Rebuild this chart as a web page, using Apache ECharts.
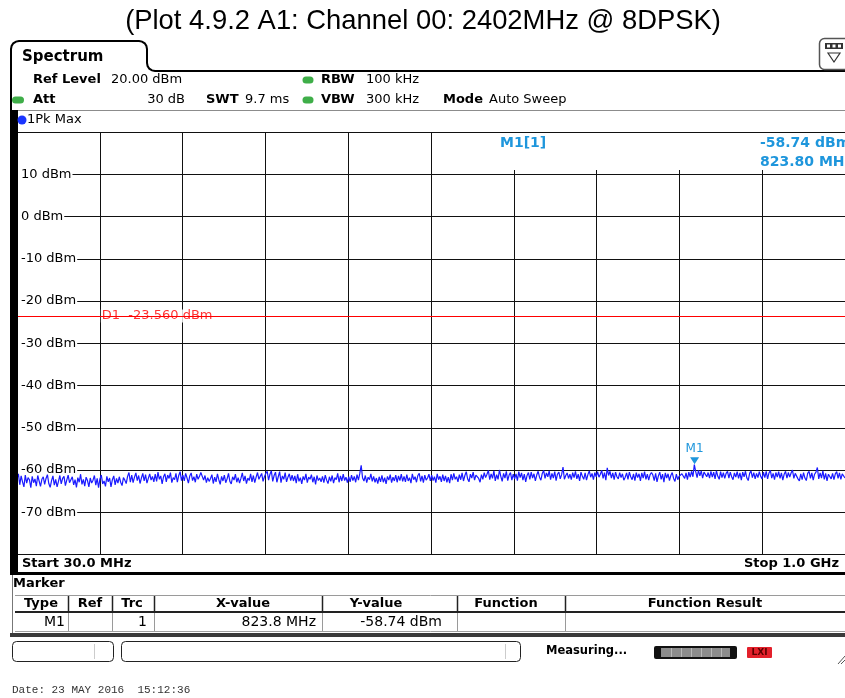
<!DOCTYPE html>
<html>
<head>
<meta charset="utf-8">
<script src="https://cdn.jsdelivr.net/npm/echarts@6/dist/echarts.min.js"></script>
<style>
  html, body { margin: 0; padding: 0; background: #fff; }
  #chart { width: 845px; height: 698px; }
</style>
</head>
<body>
<div id="chart"></div>
<script>
// Sweep settings
const sweepStartMHz = 30;
const sweepStopMHz = 1000;
const refLevelDbm = 20;
const bottomLevelDbm = -80;
const levelStepDb = 10;
const divisionsX = 10;

// Display line D1 and marker M1
const d1LimitDbm = -23.56;
const m1FreqMHz = 823.8;
const m1LevelDbm = -58.74;

// Marker table
const markerTableHeaders = ['Type', 'Ref', 'Trc', 'X-value', 'Y-value', 'Function', 'Function Result'];

// 1Pk Max trace, dBm, equally spaced sweep points from start to stop
const traceDbm = [
  -62.0,-60.9,-63.5,-61.4,-62.8,-64.0,-61.2,-63.1,-61.8,-62.3,-64.2,-61.5,-63.0,-62.1,-63.8,-61.3,-62.6,-63.9,-62.2,-61.6,
  -63.4,-62.0,-61.1,-63.2,-64.1,-62.5,-61.4,-63.6,-62.2,-64.0,-62.7,-61.3,-63.3,-62.0,-61.5,-63.7,-62.4,-61.2,-63.0,-62.6,
  -61.6,-63.5,-62.3,-64.1,-61.8,-62.9,-61.0,-63.4,-62.2,-63.8,-61.7,-62.5,-64.0,-61.9,-63.1,-62.4,-61.3,-63.6,-62.0,-64.2,
  -62.1,-61.2,-63.3,-62.6,-63.9,-61.5,-62.8,-61.9,-64.0,-62.3,-61.4,-63.5,-62.0,-63.1,-61.6,-62.9,-63.7,-61.8,-62.4,-63.2,
  -61.5,-60.6,-62.9,-61.2,-63.0,-61.7,-60.7,-62.5,-61.3,-63.2,-61.9,-60.8,-62.6,-61.1,-63.1,-62.0,-60.9,-62.4,-61.5,-62.8,
  -61.0,-62.7,-60.5,-62.2,-61.4,-63.3,-61.6,-60.9,-62.8,-61.2,-62.0,-60.6,-63.0,-61.8,-62.3,-60.8,-62.9,-61.3,-60.4,-62.5,
  -61.2,-62.6,-60.8,-61.9,-63.1,-61.4,-60.7,-62.5,-61.6,-62.9,-61.0,-62.2,-61.5,-60.6,-60.2,-62.4,-61.3,-63.0,-61.8,-62.7,
  -62.0,-61.1,-63.2,-61.7,-62.8,-60.9,-62.3,-63.4,-61.5,-62.6,-61.2,-63.0,-62.1,-60.8,-62.7,-63.3,-61.6,-62.4,-61.0,-62.9,
  -61.8,-63.1,-62.0,-60.7,-62.6,-61.4,-63.2,-61.9,-62.5,-60.9,-62.8,-61.3,-63.0,-61.7,-60.6,-62.2,-61.5,-60.8,-62.7,-61.6,
  -60.8,-60.3,-62.4,-61.0,-60.2,-62.7,-61.3,-60.5,-62.9,-61.6,-60.4,-63.0,-61.4,-62.2,-60.6,-62.8,-61.7,-60.9,-62.5,-61.2,
  -62.6,-61.4,-63.1,-61.0,-62.7,-61.8,-63.3,-61.5,-62.4,-60.9,-63.0,-61.7,-62.2,-61.1,-62.9,-61.6,-63.4,-61.3,-62.5,-61.9,
  -62.8,-61.5,-63.0,-61.2,-62.4,-63.2,-61.6,-62.7,-61.3,-63.1,-61.8,-62.3,-60.8,-62.9,-61.4,-62.6,-61.0,-62.5,-61.7,-63.0,
  -61.6,-62.8,-61.2,-62.5,-61.5,-62.9,-61.1,-62.4,-60.8,-58.9,-61.9,-62.6,-61.3,-63.0,-61.7,-62.3,-60.9,-62.7,-61.5,-62.9,
  -61.9,-63.2,-61.6,-62.8,-61.3,-62.9,-61.8,-63.3,-61.5,-62.4,-61.1,-63.0,-61.7,-62.6,-61.2,-62.9,-61.4,-62.5,-61.0,-62.7,
  -61.5,-62.8,-61.1,-62.6,-61.8,-63.1,-60.9,-62.3,-61.6,-62.9,-61.3,-60.8,-62.7,-61.4,-63.0,-61.2,-62.4,-61.9,-61.0,-62.6,
  -61.2,-62.5,-61.6,-63.0,-60.9,-62.3,-61.5,-62.8,-61.1,-62.6,-61.4,-62.9,-61.7,-63.1,-61.0,-62.4,-60.8,-62.2,-61.6,-62.8,
  -61.1,-62.3,-60.7,-62.6,-61.3,-60.4,-62.1,-62.8,-61.0,-61.9,-60.5,-62.4,-61.2,-60.8,-62.0,-62.9,-61.1,-62.2,-60.6,-61.8,
  -61.0,-60.1,-62.3,-60.9,-62.0,-60.2,-62.6,-61.1,-62.2,-60.0,-61.5,-62.7,-60.8,-61.9,-60.3,-62.5,-61.2,-60.6,-62.4,-61.0,
  -62.1,-60.9,-62.5,-60.4,-61.8,-60.7,-62.4,-61.0,-62.8,-61.3,-60.6,-62.2,-60.5,-61.9,-60.9,-62.6,-61.2,-60.3,-61.7,-62.4,
  -60.8,-60.1,-62.0,-60.7,-61.6,-60.2,-62.3,-60.8,-61.9,-60.4,-62.5,-61.0,-60.5,-62.1,-61.1,-59.3,-62.2,-61.3,-60.7,-62.0,
  -61.0,-62.3,-60.6,-61.8,-60.3,-62.1,-61.0,-62.6,-60.5,-61.5,-62.2,-60.7,-62.4,-61.1,-60.2,-61.7,-60.8,-62.3,-60.6,-61.6,
  -60.4,-61.7,-61.0,-60.1,-62.0,-60.6,-62.4,-59.5,-61.3,-60.3,-61.9,-60.7,-62.3,-60.5,-61.6,-62.1,-60.6,-61.8,-60.9,-62.4,
  -61.7,-60.7,-62.2,-60.5,-61.6,-62.3,-60.9,-62.5,-60.6,-61.8,-60.9,-62.6,-60.7,-61.9,-60.4,-62.2,-61.0,-62.4,-61.1,-60.6,
  -61.2,-62.5,-60.8,-62.8,-61.4,-60.5,-62.2,-61.0,-62.9,-60.7,-61.9,-60.9,-62.5,-61.3,-60.6,-62.0,-62.7,-61.0,-62.3,-61.5,
  -61.8,-60.9,-60.5,-62.0,-60.7,-62.3,-60.5,-61.7,-60.3,-61.6,-58.74,-60.4,-61.8,-60.1,-61.4,-60.2,-61.9,-60.5,-60.1,-61.6,
  -60.6,-61.9,-60.3,-61.7,-60.5,-62.1,-60.2,-61.5,-62.2,-60.4,-61.8,-60.6,-62.0,-60.8,-60.3,-61.9,-60.5,-61.6,-62.3,-60.7,
  -61.7,-60.4,-62.0,-60.7,-62.4,-60.5,-61.6,-60.3,-61.9,-62.5,-60.8,-60.2,-61.8,-60.6,-62.1,-60.8,-61.8,-60.4,-61.5,-62.1,
  -60.5,-61.8,-60.3,-62.1,-60.7,-60.1,-61.9,-60.8,-62.3,-60.6,-61.7,-60.4,-62.0,-60.7,-62.4,-61.0,-60.3,-61.9,-60.6,-61.7,
  -60.7,-60.0,-62.0,-60.8,-60.4,-62.1,-62.6,-60.9,-62.3,-60.6,-61.9,-62.5,-60.8,-60.3,-62.0,-60.7,-62.4,-61.0,-60.5,-59.4,
  -62.1,-60.7,-61.9,-60.2,-62.2,-60.8,-62.6,-61.0,-60.6,-62.1,-60.8,-62.3,-60.9,-60.4,-62.0,-60.7,-62.2,-60.9,-60.5,-61.9
];

const UI_FONT = '"DejaVu Sans", sans-serif';
const MARKER_BLUE = '#1e96dc';
const TRACE_BLUE = '#1a1aff';

const sweepStep = (sweepStopMHz - sweepStartMHz) / (traceDbm.length - 1);
const tracePoints = traceDbm.map((v, i) => [sweepStartMHz + i * sweepStep, v]);
const firstDivisionMHz = sweepStartMHz + (sweepStopMHz - sweepStartMHz) / divisionsX;

// ---------- helpers for the instrument frame ----------
function text(x, y, str, opts) {
  opts = opts || {};
  const size = opts.size || 13;
  const weight = opts.bold ? 'bold ' : '';
  const family = opts.family || UI_FONT;
  const align = opts.align || 'left';
  return {
    type: 'text', x: x, y: y, z: opts.z || 20, silent: true,
    style: {
      text: str,
      font: weight + size + 'px ' + family,
      fill: opts.color || '#000',
      align: align, verticalAlign: 'middle',
      textAlign: align, textVerticalAlign: 'middle'
    }
  };
}
function hline(x1, x2, y, color, width, z) {
  return { type: 'line', silent: true, z: z || 15,
    shape: { x1: x1, y1: y, x2: x2, y2: y },
    style: { stroke: color, lineWidth: width || 1 } };
}
function vline(x, y1, y2, color, width, z) {
  return { type: 'line', silent: true, z: z || 15,
    shape: { x1: x, y1: y1, x2: x, y2: y2 },
    style: { stroke: color, lineWidth: width || 1 } };
}
function rect(x, y, w, h, style, z, r) {
  return { type: 'rect', silent: true, z: z || 15,
    shape: { x: x, y: y, width: w, height: h, r: r || 0 },
    style: style };
}
function pill(cx, cy, w, h, color, z) {
  return rect(cx - w / 2, cy - h / 2, w, h, { fill: color }, z || 16, h / 2);
}

const frame = [];

// Title
frame.push(text(423, 21, '(Plot 4.9.2 A1: Channel 00: 2402MHz @ 8DPSK)',
  { size: 27.4, family: '"Liberation Sans", Arial, sans-serif', align: 'center' }));

// Spectrum tab outline
frame.push({ type: 'polyline', silent: true, z: 15,
  shape: { points: [[11, 112], [11, 49], [11.6, 46], [13.3, 43.3], [16, 41.6], [19, 41],
    [139, 41], [142, 41.6], [144.7, 43.3], [146.4, 46], [147, 49], [147, 63],
    [147.6, 66], [149.3, 68.7], [152, 70.4], [155, 71], [850, 71]] },
  style: { stroke: '#000', lineWidth: 2, fill: null } });
frame.push(text(22, 57, 'Spectrum', { size: 15, bold: true }));

// Display-config button at the top right
frame.push(rect(819.5, 38.5, 30, 31, { fill: '#fff', stroke: '#555', lineWidth: 1.5 }, 16, 5));
frame.push(rect(825, 43, 18, 6, { fill: '#333' }, 17));
frame.push(rect(827, 44.5, 3, 3, { fill: '#fff' }, 18));
frame.push(rect(832.5, 44.5, 3, 3, { fill: '#fff' }, 18));
frame.push(rect(838, 44.5, 3, 3, { fill: '#fff' }, 18));
frame.push({ type: 'polygon', silent: true, z: 17,
  shape: { points: [[828, 53], [840, 53], [834, 62]] },
  style: { fill: '#fff', stroke: '#333', lineWidth: 1.2 } });

// Setting lines
frame.push(text(33, 80, 'Ref Level', { bold: true }));
frame.push(text(111, 80, refLevelDbm.toFixed(2) + ' dBm'));
frame.push(pill(308, 80, 11, 7, '#3fae49'));
frame.push(text(321, 80, 'RBW', { bold: true }));
frame.push(text(366, 80, '100 kHz'));

frame.push(pill(18, 100, 12, 7, '#3fae49'));
frame.push(text(33, 100, 'Att', { bold: true }));
frame.push(text(185, 100, '30 dB', { align: 'right' }));
frame.push(text(206, 100, 'SWT', { bold: true }));
frame.push(text(245, 100, '9.7 ms'));
frame.push(pill(308, 100, 11, 7, '#3fae49'));
frame.push(text(321, 100, 'VBW', { bold: true }));
frame.push(text(366, 100, '300 kHz'));
frame.push(text(443, 100, 'Mode', { bold: true }));
frame.push(text(489, 100, 'Auto Sweep'));

frame.push(hline(10, 850, 110.5, '#8c8c8c', 1));
frame.push({ type: 'circle', silent: true, z: 17, shape: { cx: 22, cy: 120, r: 4.5 }, style: { fill: '#1a35ff' } });
frame.push(text(27, 120, '1Pk Max'));

// Thick left border of the diagram (covers the first division line)
frame.push(rect(10, 110, 8, 465, { fill: '#000' }, 16));

// Marker info area (masks the division lines behind it)
frame.push(rect(438, 133, 412, 37, { fill: '#fff' }, 1));
frame.push(text(500, 143, 'M1[1]', { bold: true, size: 14, color: MARKER_BLUE }));
frame.push(text(760, 143, m1LevelDbm.toFixed(2) + ' dBm', { bold: true, size: 14, color: MARKER_BLUE }));
frame.push(text(760, 162, m1FreqMHz.toFixed(2) + ' MHz', { bold: true, size: 14, color: MARKER_BLUE }));

// Start / stop row
frame.push(text(22, 564, 'Start ' + sweepStartMHz.toFixed(1) + ' MHz', { bold: true }));
frame.push(text(839, 564, 'Stop ' + (sweepStopMHz / 1000).toFixed(1) + ' GHz', { bold: true, align: 'right' }));
frame.push(rect(10, 572, 840, 3, { fill: '#000' }, 16));

// Marker table
frame.push(vline(12.5, 575, 637, '#777', 1));
frame.push(text(13, 584, 'Marker', { bold: true }));
frame.push(hline(15, 850, 595.5, '#9a9a9a', 1));
frame.push(hline(15, 850, 612, '#222', 2));
frame.push(hline(15, 850, 631.5, '#a0a0a0', 1));
frame.push(rect(10, 633, 840, 4, { fill: '#3a3a3a' }, 16));
const colSeparators = [68, 112, 154, 322, 457, 565];
colSeparators.forEach(function (x) {
  frame.push(vline(x + 0.5, 596, 611, '#222', 1.5));
  frame.push(vline(x + 0.5, 613, 631, '#9a9a9a', 1));
});
const headerCenters = [41, 90, 132, 243, 376, 506, 705];
markerTableHeaders.forEach(function (h, i) {
  frame.push(text(headerCenters[i], 604, h, { bold: true, align: 'center' }));
});
frame.push(text(65, 622, 'M1', { size: 14, align: 'right' }));
frame.push(text(147, 622, '1', { size: 14, align: 'right' }));
frame.push(text(316, 622, m1FreqMHz.toFixed(1) + ' MHz', { size: 14, align: 'right' }));
frame.push(text(442, 622, m1LevelDbm.toFixed(2) + ' dBm', { size: 14, align: 'right' }));

// Status bar
frame.push(rect(12.5, 641.5, 101, 20, { fill: '#fff', stroke: '#222', lineWidth: 1 }, 15, 4));
frame.push(vline(94.5, 644, 659, '#ccc', 1));
frame.push(rect(121.5, 641.5, 399, 20, { fill: '#fff', stroke: '#222', lineWidth: 1 }, 15, 4));
frame.push(vline(505.5, 644, 659, '#ccc', 1));
frame.push(text(546, 651, 'Measuring...', { bold: true, size: 11.5 }));
frame.push(rect(654, 646, 83, 13, { fill: '#111' }, 15, 2));
frame.push(rect(661, 648, 69, 9, { fill: '#8c8c8c' }, 16));
[671, 681, 691, 701, 711, 721].forEach(function (x) {
  frame.push(vline(x + 0.5, 648, 657, '#b8b8b8', 1, 17));
});
frame.push(rect(747, 647, 25, 11, { fill: '#e3202b' }, 15, 1));
frame.push(text(759.5, 652.5, 'LXI', { bold: true, size: 9, align: 'center', color: '#5a0000' }));
frame.push({ type: 'line', silent: true, z: 15, shape: { x1: 838, y1: 664, x2: 845, y2: 656 }, style: { stroke: '#555', lineWidth: 1 } });
frame.push({ type: 'line', silent: true, z: 15, shape: { x1: 841, y1: 664, x2: 846, y2: 659 }, style: { stroke: '#555', lineWidth: 1 } });

// Date stamp
frame.push(text(12, 690, 'Date: 23 MAY 2016  15:12:36',
  { size: 11, family: '"Liberation Mono", monospace', color: '#333' }));

// ---------- chart ----------
const chart = echarts.init(document.getElementById('chart'), null, { renderer: 'canvas' });

const gridLine = { show: true, lineStyle: { color: '#111', width: 1, type: 'solid' } };

chart.setOption({
  animation: false,
  backgroundColor: '#fff',
  grid: { left: 17, top: 132, width: 833, height: 422.5, containLabel: false, show: false },
  xAxis: [
    { // frequency divisions
      type: 'value', min: 0, max: divisionsX, interval: 1, z: 0,
      axisLine: { show: false }, axisTick: { show: false }, axisLabel: { show: false },
      splitLine: gridLine
    },
    { // frequency scale used by the trace
      type: 'value', min: sweepStartMHz, max: sweepStopMHz, show: false
    }
  ],
  yAxis: [
    { // level grid lines
      type: 'value', min: bottomLevelDbm, max: refLevelDbm, interval: levelStepDb, z: 0,
      axisLine: { show: false }, axisTick: { show: false }, axisLabel: { show: false },
      splitLine: gridLine
    },
    { // level labels drawn inside the diagram; the white box starts at the left border
      type: 'value', min: bottomLevelDbm, max: refLevelDbm, interval: levelStepDb, z: 1,
      position: 'left',
      axisLine: { show: false }, axisTick: { show: false }, splitLine: { show: false },
      axisLabel: {
        show: true, inside: true, margin: 0,
        showMinLabel: false, showMaxLabel: false,
        formatter: function (v) { return v + ' dBm'; },
        color: '#000', fontFamily: UI_FONT, fontSize: 13,
        backgroundColor: '#fff', padding: [0, 1, 0, 4]
      }
    }
  ],
  series: [
    {
      name: '1Pk Max', type: 'line', xAxisIndex: 1, yAxisIndex: 0,
      data: tracePoints, showSymbol: false, symbol: 'none', z: 3,
      lineStyle: { color: TRACE_BLUE, width: 1.2 },
      markLine: {
        silent: true, symbol: ['none', 'none'], animation: false,
        lineStyle: { color: '#ff0000', width: 1, type: 'solid' },
        label: { show: false },
        data: [{ yAxis: d1LimitDbm }]
      },
      markPoint: {
        silent: true, animation: false,
        data: [{
          coord: [m1FreqMHz, m1LevelDbm],
          symbol: 'triangle', symbolRotate: 180, symbolSize: [9, 7], symbolOffset: [0, -4],
          itemStyle: { color: MARKER_BLUE },
          label: {
            show: true, position: 'top', distance: 2, formatter: 'M1',
            color: MARKER_BLUE, fontFamily: UI_FONT, fontSize: 12
          }
        }]
      }
    },
    {
      name: 'D1', type: 'scatter', xAxisIndex: 1, yAxisIndex: 0, z: 4,
      data: [[firstDivisionMHz, d1LimitDbm]], symbolSize: 0, silent: true,
      label: {
        show: true, position: 'right', distance: 1,
        formatter: 'D1  ' + d1LimitDbm.toFixed(3) + ' dBm',
        color: '#ff0000', fontFamily: UI_FONT, fontSize: 13,
        backgroundColor: '#fff', padding: [0, 1, 0, 1]
      }
    }
  ],
  graphic: { elements: frame }
});
</script>
</body>
</html>
